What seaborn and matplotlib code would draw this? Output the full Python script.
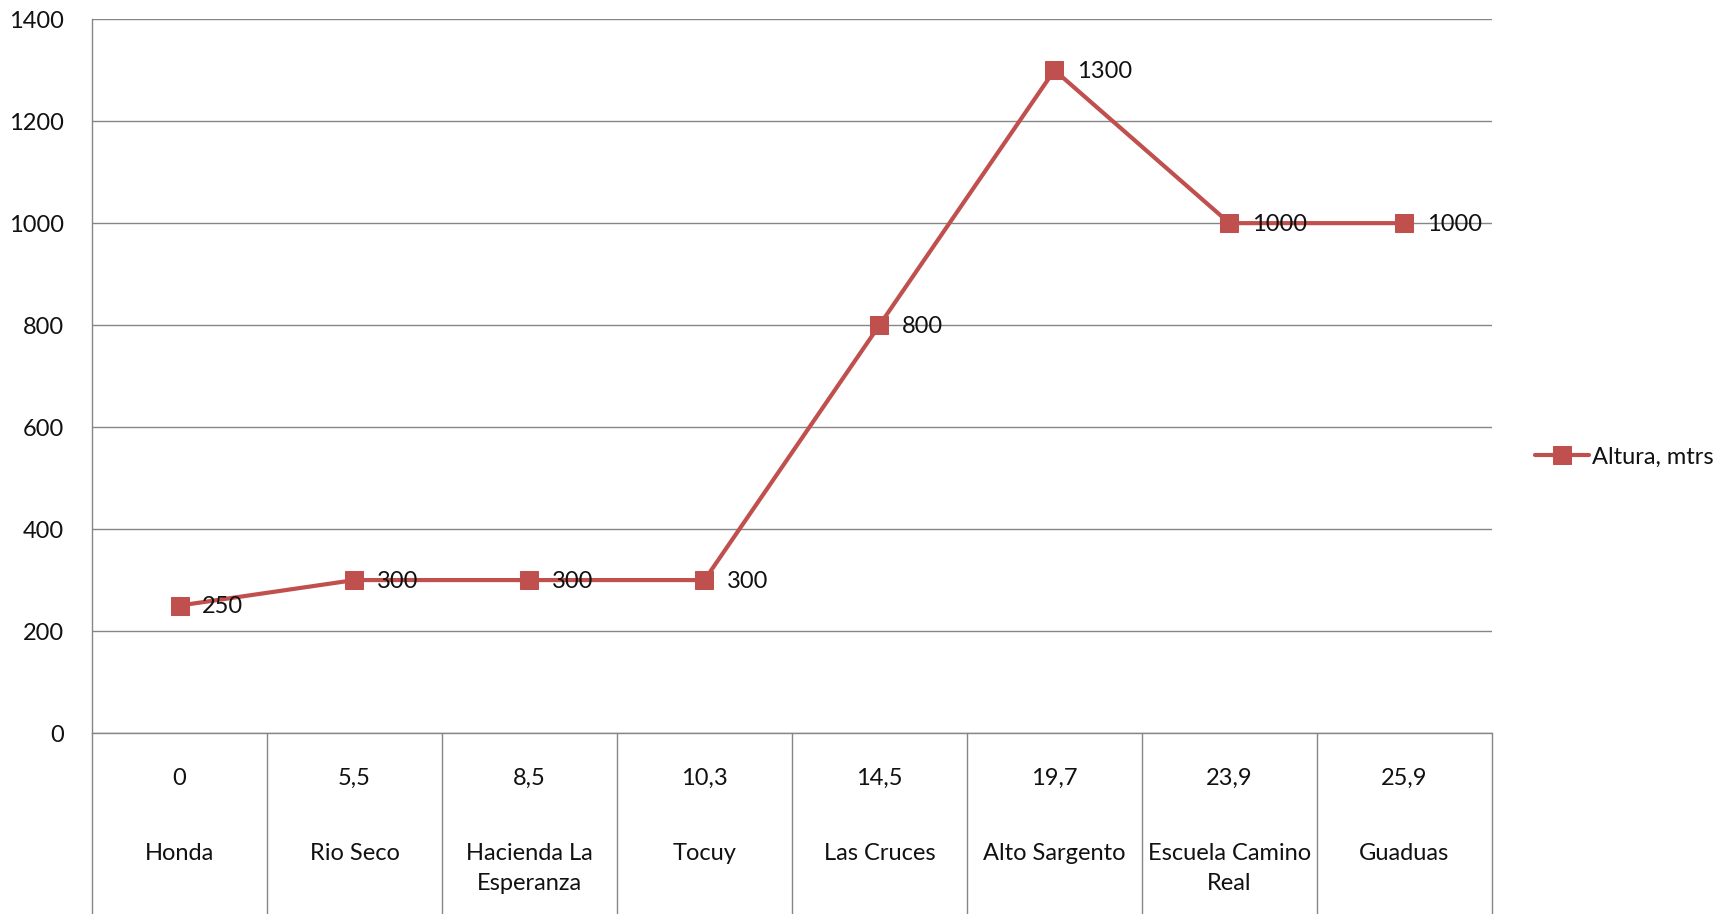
import matplotlib
matplotlib.use("Agg")
import matplotlib.pyplot as plt
import matplotlib.transforms as mtransforms
import seaborn as sns
import pandas as pd

distances = ["0", "5,5", "8,5", "10,3", "14,5", "19,7", "23,9", "25,9"]
places = ["Honda", "Rio Seco", "Hacienda La\nEsperanza", "Tocuy", "Las Cruces",
          "Alto Sargento", "Escuela Camino\nReal", "Guaduas"]
altura = [250, 300, 300, 300, 800, 1300, 1000, 1000]
series_name = "Altura, mtrs"
yticks = [0, 200, 400, 600, 800, 1000, 1200, 1400]

sns.set_theme(style="white")
plt.rcParams['font.family'] = ['Lato', 'DejaVu Sans']

RED = "#C0504D"
GRID = "#868686"
TXT = "#111111"
FS = 17

fig = plt.figure(figsize=(17.36, 9.14), dpi=100)
ax = fig.add_axes([0.053, 0.198, 0.8594 - 0.053, 0.979 - 0.198])

df = pd.DataFrame({"pos": range(len(altura)), "alt": altura, "serie": series_name})
sns.lineplot(data=df, x="pos", y="alt", hue="serie", palette=[RED], marker="s",
             markersize=12.5, markeredgecolor=RED, linewidth=3, ax=ax)

ax.set_xlim(-0.5, len(altura) - 0.5)
ax.set_ylim(0, 1400)
ax.set_yticks(yticks)
ax.set_yticklabels([str(v) for v in yticks], fontsize=FS, color=TXT)
ax.tick_params(axis="y", length=0, pad=20)
ax.set_xticks([])
ax.set_xlabel("")
ax.set_ylabel("")
ax.yaxis.grid(True, color=GRID, linewidth=1)
ax.set_axisbelow(True)
for s in ["top", "right"]:
    ax.spines[s].set_visible(False)
for s in ["left", "bottom"]:
    ax.spines[s].set_color(GRID)
    ax.spines[s].set_linewidth(1)

# data labels
for i, v in enumerate(altura):
    ax.annotate(str(v), (i, v), xytext=(16, -1), textcoords="offset points",
                ha="left", va="center", fontsize=FS, color=TXT)

# category axis with separators
trans = mtransforms.blended_transform_factory(ax.transData, ax.transAxes)
ybot = -0.26
for k in range(len(altura) + 1):
    xk = k - 0.5
    ax.plot([xk, xk], [0, ybot], transform=trans, color=GRID, linewidth=1,
            clip_on=False)
for i, (d, p) in enumerate(zip(distances, places)):
    ax.text(i, -0.064, d, transform=trans, ha="center", va="center",
            fontsize=FS, color=TXT)
    ax.text(i, -0.154, p, transform=trans, ha="center", va="top",
            fontsize=FS, color=TXT, linespacing=1.55)

ax.get_legend().remove()
handles, labels = ax.get_legend_handles_labels()
leg = fig.legend(handles, labels, loc="center left", bbox_to_anchor=(0.884, 0.5),
                 frameon=False, fontsize=FS, handlelength=2.3, handletextpad=0.15,
                 borderpad=0, borderaxespad=0)
for h in leg.legend_handles:
    h.set_markersize(12.5)
for t in leg.get_texts():
    t.set_color(TXT)

fig.savefig("out.png", dpi=100)
